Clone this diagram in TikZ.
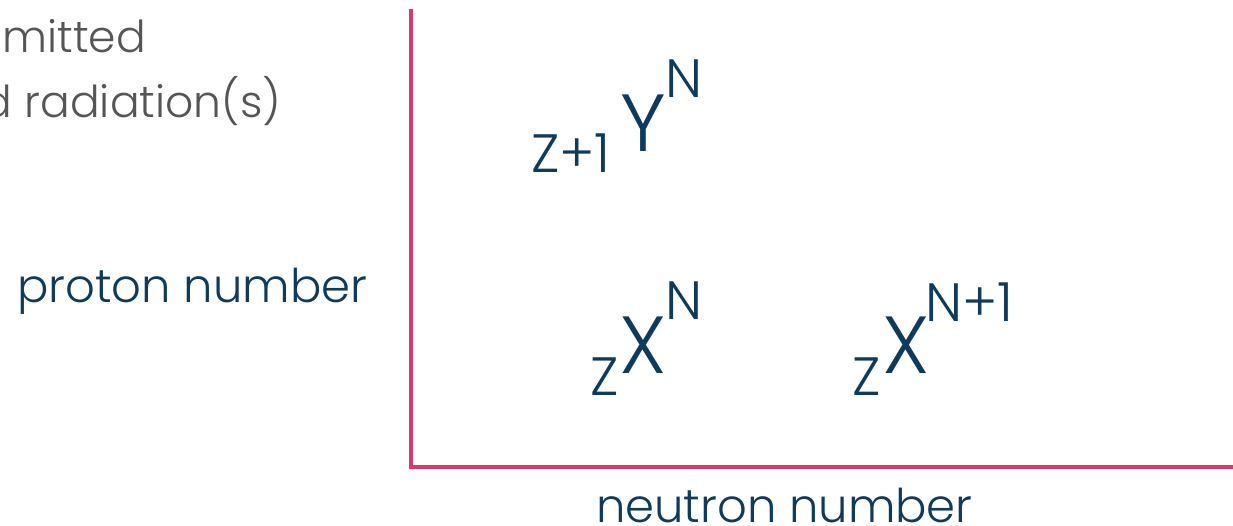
\documentclass[tikz,border=0pt]{standalone}
\usepackage{fontspec}
\setmainfont{Poppins}[UprightFont=* Light]
\definecolor{axisred}{HTML}{E03568}
\definecolor{navy}{HTML}{0E3A5C}
\definecolor{greytext}{HTML}{555555}
\begin{document}
\begin{tikzpicture}[x=1pt,y=1pt,
  lbl/.style={inner sep=0pt,outer sep=0pt,text=navy},
  big/.style={lbl,font=\fontsize{81}{81}\selectfont},
  small/.style={lbl,font=\fontsize{54}{54}\selectfont},
  axistext/.style={lbl,font=\fontsize{46.5}{46.5}\selectfont},
  greylbl/.style={inner sep=0pt,outer sep=0pt,text=greytext,font=\fontsize{44}{44}\selectfont},
  axisline/.style={draw=axisred,line width=4pt}]
\useasboundingbox (0,0) rectangle (1233,525);
\clip (0,0) rectangle (1233,525);
% grey text (cut at left)
\node[greylbl,anchor=base east] (t1) at (146,472) {mitted};
\node[greylbl,anchor=base east] (t2) at (281,407) {d radiation(s)};
% axes
\coordinate (top) at (410.5,516);
\coordinate (origin) at (410.5,58.5);
\coordinate (right) at (1240,58.5);
\draw[axisline] (top) -- (origin) -- (right);
% axis labels
\node[axistext,anchor=base west] (pn) at (17,222) {proton number};
\node[axistext,anchor=base west] (nn) at (596,3) {neutron number};
% Y
\node[big,anchor=base west] (Y) at (620,373) {Y};
\node[small,anchor=base west] (Ysup) at (665,427) {N};
\node[small,anchor=base west] (Ysub) at (531,352) {Z+1};
% X (N)
\node[big,anchor=base west] (X1) at (619,152) {X};
\node[small,anchor=base west] (X1sup) at (665,205) {N};
\node[small,anchor=base west] (X1sub) at (590,130) {Z};
% X (N+1)
\node[big,anchor=base west] (X2) at (882,152) {X};
\node[small,anchor=base west] (X2sup) at (925,203) {N+1};
\node[small,anchor=base west] (X2sub) at (852,130) {Z};
\end{tikzpicture}
\end{document}
